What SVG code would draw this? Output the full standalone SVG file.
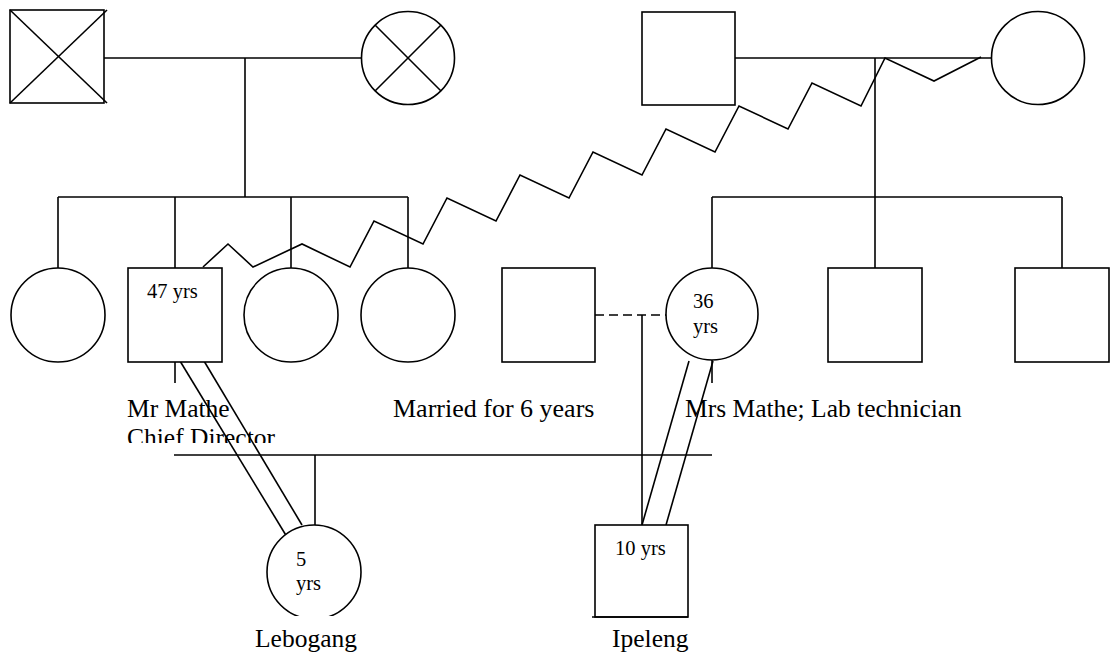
<svg xmlns="http://www.w3.org/2000/svg" width="1112" height="662" viewBox="0 0 1112 662">
  <style>
    .ln { fill: none; stroke: #000; stroke-width: 1.6; }
    .nd { fill: #fff; stroke: #000; stroke-width: 1.6; }
    .lbl { font-family: "Liberation Serif", "Times New Roman", serif; font-size: 25.5px; fill: #000; }
    .age { font-family: "Liberation Serif", "Times New Roman", serif; font-size: 20.5px; fill: #000; }
  </style>
  <defs>
    <clipPath id="clipLabel"><rect x="0" y="380" width="400" height="63"/></clipPath>
    <clipPath id="clipChild"><rect x="250" y="500" width="130" height="116"/></clipPath>
  </defs>
  <rect width="1112" height="662" fill="#fff"/>

  <!-- connectors: marriage, sibship and descent lines -->
  <g id="connectors">
    <!-- paternal grandparents -->
    <line class="ln" x1="104" y1="58" x2="362" y2="58"/>
    <line class="ln" x1="245" y1="58" x2="245" y2="197"/>
    <line class="ln" x1="58" y1="197" x2="408" y2="197"/>
    <line class="ln" x1="58" y1="197" x2="58" y2="268"/>
    <line class="ln" x1="175" y1="197" x2="175" y2="268"/>
    <line class="ln" x1="291" y1="197" x2="291" y2="268"/>
    <line class="ln" x1="408" y1="197" x2="408" y2="268"/>
    <!-- maternal grandparents -->
    <line class="ln" x1="735" y1="58" x2="992" y2="58"/>
    <line class="ln" x1="875" y1="58" x2="875" y2="197"/>
    <line class="ln" x1="712" y1="197" x2="1062" y2="197"/>
    <line class="ln" x1="712" y1="197" x2="712" y2="268"/>
    <line class="ln" x1="875" y1="197" x2="875" y2="268"/>
    <line class="ln" x1="1062" y1="197" x2="1062" y2="268"/>
    <!-- conflict zigzag -->
    <polyline class="ln" points="203,267 228,244 253,267 302,244 350,267 374,221 423,244 447,198 496,221 520,175 569,198 593,152 642,175 666,129 715,152 739,106 788,129 812,83 861,106 885,58 934,81 981,57"/>
    <!-- partnership -->
    <line class="ln" x1="595" y1="315" x2="666" y2="315" stroke-dasharray="9,5"/>
    <line class="ln" x1="642" y1="315" x2="642" y2="525"/>
    <!-- stubs under the couple -->
    <line class="ln" x1="175" y1="362" x2="175" y2="383"/>
    <line class="ln" x1="712" y1="360" x2="712" y2="383"/>
    <!-- children line -->
    <line class="ln" x1="174" y1="455" x2="712" y2="455"/>
    <line class="ln" x1="315" y1="455" x2="315" y2="525"/>
    <!-- close relationships (double lines) -->
    <line class="ln" x1="180" y1="361" x2="287" y2="537"/>
    <line class="ln" x1="204" y1="361" x2="302" y2="525"/>
    <line class="ln" x1="689" y1="361" x2="642" y2="525"/>
    <line class="ln" x1="713" y1="361" x2="666" y2="525"/>
  </g>

  <!-- generation I -->
  <g id="grandfather-paternal">
    <rect class="nd" x="10" y="10" width="94" height="93"/>
    <line class="ln" x1="10" y1="10" x2="107" y2="103"/>
    <line class="ln" x1="10" y1="103" x2="107" y2="10"/>
  </g>
  <g id="grandmother-paternal">
    <circle class="nd" cx="408" cy="58" r="46.5"/>
    <line class="ln" x1="375" y1="25" x2="441" y2="91"/>
    <line class="ln" x1="375" y1="91" x2="441" y2="25"/>
  </g>
  <g id="grandfather-maternal">
    <rect class="nd" x="642" y="12" width="93" height="93"/>
  </g>
  <g id="grandmother-maternal">
    <circle class="nd" cx="1038" cy="58" r="46.5"/>
  </g>

  <!-- generation II -->
  <g id="aunt-1"><circle class="nd" cx="58" cy="315" r="47"/></g>
  <g id="mr-mathe">
    <rect class="nd" x="128" y="268" width="94" height="94"/>
    <text class="age" x="147" y="298">47 yrs</text>
    <g clip-path="url(#clipLabel)">
      <text class="lbl" x="127" y="417">Mr Mathe</text>
      <text class="lbl" x="127" y="446">Chief Director</text>
    </g>
  </g>
  <g id="aunt-2"><circle class="nd" cx="291" cy="315" r="47"/></g>
  <g id="aunt-3"><circle class="nd" cx="408" cy="315" r="47"/></g>
  <g id="former-partner">
    <rect class="nd" x="502" y="268" width="93" height="94"/>
  </g>
  <text class="lbl" x="393" y="417" style="font-size:26px">Married for 6 years</text>
  <g id="mrs-mathe">
    <circle class="nd" cx="712" cy="314" r="46"/>
    <text class="age" x="693" y="308">36</text>
    <text class="age" x="693" y="333">yrs</text>
    <text class="lbl" x="685" y="417">Mrs Mathe; Lab technician</text>
  </g>
  <g id="uncle-1"><rect class="nd" x="828" y="268" width="94" height="94"/></g>
  <g id="uncle-2"><rect class="nd" x="1015" y="268" width="94" height="94"/></g>

  <!-- generation III -->
  <g id="lebogang">
    <circle class="nd" cx="314" cy="572" r="47" clip-path="url(#clipChild)"/>
    <text class="age" x="296" y="566">5</text>
    <text class="age" x="296" y="590">yrs</text>
    <text class="lbl" x="255" y="647">Lebogang</text>
  </g>
  <g id="ipeleng">
    <rect class="nd" x="595" y="525" width="93" height="92"/>
    <line class="ln" x1="592" y1="617" x2="688" y2="617"/>
    <text class="age" x="615" y="555">10 yrs</text>
    <text class="lbl" x="612" y="647">Ipeleng</text>
  </g>
</svg>
